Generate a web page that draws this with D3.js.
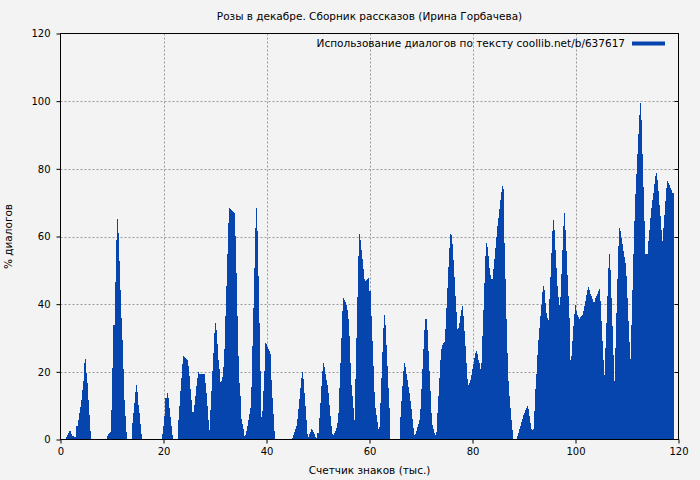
<!DOCTYPE html>
<html>
<head>
<meta charset="utf-8">
<script src="https://cdn.jsdelivr.net/npm/d3@7"></script>
<style>
  html, body { margin: 0; padding: 0; background: #f3f3f3; }
  svg { display: block; }
  text { font-family: "DejaVu Sans", sans-serif; fill: #000; }
</style>
</head>
<body>
<svg id="chart" width="700" height="480"></svg>
<script>
const chartTitle = "Розы в декабре. Сборник рассказов (Ирина Горбачева)";
const seriesName = "Использование диалогов по тексту coollib.net/b/637617";
const xAxisTitle = "Счетчик знаков (тыс.)";
const yAxisTitle = "% диалогов";
const xTicks = [0, 20, 40, 60, 80, 100, 120];
const yTicks = [0, 20, 40, 60, 80, 100, 120];

// character counter (thousands)
const charsK = [
0,1.0,1.03,1.3,1.55,1.87,2.1,2.4,2.7,2.95,2.97,3.23,3.42,3.62,3.81,4.01,4.20,4.39,4.65,4.91,5.11,5.30,5.50,5.69,5.88,6.08,
8.95,8.99,9.18,9.38,9.57,9.77,9.96,10.15,10.41,10.61,10.80,11.0,11.19,11.39,11.58,11.77,11.97,12.16,12.42,12.62,12.81,13.0,
13.8,13.84,14.04,14.23,14.43,14.62,14.82,15.01,15.2,15.4,15.59,15.79,15.98,
19.7,19.8,19.95,20.1,20.3,20.45,20.77,20.96,21.15,21.35,21.6,21.8,22.0,
22.7,22.77,22.97,23.16,23.35,23.55,23.74,23.94,24.13,24.33,24.52,24.71,24.91,25.10,25.30,25.49,25.69,25.88,26.07,26.27,26.46,26.66,26.85,27.04,27.89,28.08,28.27,28.47,28.66,28.86,29.05,29.25,29.44,29.63,29.83,30.02,30.22,30.41,30.6,30.8,30.99,31.19,31.38,31.58,31.77,31.96,32.16,32.35,32.55,32.74,32.93,33.13,33.32,33.52,33.71,33.9,34.1,34.29,34.49,34.68,34.88,35.07,35.26,35.46,35.65,35.85,36.04,36.24,36.43,36.62,36.82,37.01,37.21,37.4,37.59,37.79,37.98,38.18,38.37,38.57,38.76,38.95,39.15,39.34,39.54,39.73,39.86,40.05,40.25,40.44,40.64,40.83,41.03,41.22,41.41,41.61,41.8,
44.9,44.97,45.17,45.36,45.56,45.75,45.94,46.14,46.33,46.53,46.72,46.92,47.11,47.3,47.5,47.69,47.89,48.08,48.27,48.47,48.66,48.86,49.05,49.25,49.44,49.63,49.83,50.02,50.22,50.41,50.6,50.8,50.99,51.19,51.38,51.58,51.77,51.96,52.16,52.35,52.55,52.74,52.93,53.13,53.32,53.52,53.71,53.9,54.1,54.29,54.49,54.68,54.88,55.07,55.26,55.46,55.65,55.85,56.04,56.24,56.43,56.62,56.82,57.01,57.21,57.4,57.59,57.79,57.98,58.18,58.37,58.57,58.76,58.95,59.15,59.34,59.54,59.73,59.86,60.12,60.31,60.51,60.7,60.9,61.09,61.28,61.48,61.67,61.87,62.06,62.25,62.45,62.64,62.84,63.03,63.23,63.42,63.61,63.81,64.0,64.13,
65.8,65.88,66.07,66.27,66.46,66.66,66.85,67.04,67.24,67.43,67.63,67.82,68.02,68.21,68.4,68.6,68.79,68.99,69.18,69.37,69.57,69.76,69.96,70.15,70.35,70.54,70.73,70.99,71.19,71.38,71.58,71.77,71.96,72.16,72.35,72.55,72.74,72.93,73.13,73.32,73.52,73.71,73.9,74.1,74.29,74.49,74.68,74.88,75.07,75.26,75.46,75.65,75.85,76.04,76.24,76.43,76.62,76.82,77.01,77.21,77.4,77.59,77.79,77.98,78.18,78.37,78.57,78.76,78.95,79.15,79.34,79.54,79.73,79.86,80.05,80.25,80.44,80.64,80.83,81.03,81.22,81.41,81.61,81.8,82.0,82.19,82.38,82.58,82.77,82.97,83.16,83.36,83.55,83.74,83.94,84.13,84.33,84.52,84.71,84.91,85.1,85.3,85.49,85.69,85.88,86.01,86.2,86.4,86.59,86.79,86.98,87.17,87.37,87.56,87.76,87.95,88.14,88.53,88.73,
88.92,89.12,89.31,89.5,89.7,89.89,90.09,90.28,90.47,90.67,90.86,91.06,91.25,91.45,91.64,91.83,92.03,92.22,92.42,92.61,92.8,93.0,93.19,93.39,93.58,93.78,93.97,94.16,94.36,94.55,94.75,94.94,95.13,95.33,95.52,95.72,95.91,96.11,96.3,96.49,96.69,96.88,97.08,97.27,97.47,97.66,97.85,98.05,98.24,98.43,98.63,98.82,99.02,99.21,99.41,99.6,99.8,100.0,
100.05,100.25,100.44,100.64,100.83,101.03,101.22,101.41,101.61,101.8,102.0,102.19,102.38,102.58,102.77,102.97,103.16,103.36,103.55,103.74,103.94,104.13,104.33,104.52,104.71,104.91,105.1,105.3,105.49,105.69,105.88,106.07,106.27,106.46,106.66,106.85,107.04,107.24,107.43,107.63,107.82,108.02,108.21,108.4,108.6,108.79,108.99,109.18,109.37,109.57,109.76,109.96,110.15,110.35,110.54,110.73,110.93,111.12,111.32,111.51,111.71,111.9,112.09,112.29,112.48,112.68,112.87,113.06,113.26,113.45,113.65,113.84,114.03,114.23,114.42,114.62,114.81,115.0,115.2,115.39,115.59,115.78,115.98,116.17,116.36,116.56,116.75,116.95,117.14,117.34,117.53,117.72,117.92,118.11,118.31,118.5,118.69,118.89,119.08,119.09
];

// share of dialogue (%)
const dialogPct = [
0,0,0.6,1.4,2.0,2.4,1.7,1.0,0.6,0.6,2.4,4.1,5.9,7.7,9.5,11.8,14.5,17.2,22.5,23.9,19.7,16.7,11.8,7.1,2.4,0,
0,0.4,1.0,1.5,2.0,2.2,8.6,21.0,33.8,46.5,58.9,65.3,60.9,52.7,44.3,35.9,29.5,20.7,11.8,6.9,2.2,0,
0,1.5,4.9,7.9,10.8,14.1,16.0,14.0,10.3,7.9,4.7,1.5,0,
0,1.5,4.0,6.9,9.4,12.3,13.8,12.3,9.4,6.7,4.1,1.2,0,
0,1.7,5.9,10.0,14.3,18.2,22.4,24.8,24.4,24.1,23.8,23.6,21.7,18.7,15.0,11.6,8.1,8.1,10.3,13.0,15.8,18.2,19.9,19.5,19.5,16.7,13.8,9.8,5.7,2.8,8.7,14.3,20.2,25.6,31.5,34.5,32.5,28.1,23.6,20.7,16.9,17.2,18.5,21.5,26.8,36.4,45.3,54.7,64.0,68.4,68.1,67.7,67.5,67.2,67.0,60.1,49.2,36.4,24.8,16.7,12.8,6.1,4.7,3.2,1.0,1.2,2.5,4.1,5.9,7.4,9.4,15.6,27.6,38.9,50.7,62.5,68.4,61.5,48.3,34.5,20.2,6.7,8.4,14.3,20.2,24.0,28.6,28.1,27.4,26.8,26.1,25.4,17.5,12.3,7.4,2.5,0,
0,0.5,1.2,2.2,3.2,4.1,6.1,9.1,12.0,15.3,18.2,19.9,17.9,13.8,9.8,5.9,1.7,0.8,1.5,2.2,3.0,2.8,2.2,1.5,0.8,0.5,2.0,2.0,6.4,10.8,15.8,20.2,22.5,21.5,19.5,17.5,16.2,13.8,10.3,6.9,3.9,1.5,1.2,1.8,2.5,3.4,4.9,7.7,15.3,22.6,30.0,37.9,41.7,41.2,40.6,39.9,38.2,35.5,30.5,22.6,16.0,12.8,9.4,5.9,17.9,30.0,42.1,54.2,60.6,59.1,56.1,53.4,50.4,47.5,46.8,47.1,47.5,47.8,47.8,43.8,36.4,29.0,21.7,14.0,9.4,7.1,5.1,3.2,3.6,10.8,18.2,25.8,33.0,36.8,33.7,27.8,21.7,15.3,9.4,3.2,0,
0,2.0,6.7,11.3,15.8,20.2,22.6,21.5,19.5,17.5,15.6,13.6,11.3,8.9,6.1,3.4,1.2,1.5,2.5,3.6,4.7,5.9,9.1,15.0,20.9,26.8,32.5,35.6,32.5,26.1,20.2,14.3,7.9,4.4,3.0,2.0,1.3,2.3,7.7,12.8,18.2,23.6,26.8,27.8,28.4,28.8,32.7,38.9,44.8,51.0,56.6,60.6,60.5,57.9,53.0,48.1,42.5,37.6,32.7,33.0,34.5,36.6,38.4,39.6,36.4,32.2,27.6,22.6,17.9,16.2,16.7,17.5,18.2,19.2,20.7,22.2,24.1,25.6,26.1,25.4,23.6,22.5,20.9,22.6,30.5,38.4,46.3,54.2,58.1,56.9,54.2,50.7,48.7,47.3,47.3,50.4,53.4,56.6,59.9,63.0,65.5,68.1,70.9,73.1,75.0,74.0,58.1,47.3,35.5,25.6,17.2,12.8,9.4,5.9,2.8,0.2,0,0,1.0,
2.0,3.0,4.1,5.1,6.1,7.1,7.9,8.7,9.4,9.8,9.1,6.9,4.9,3.2,2.8,3.0,8.4,14.8,19.5,25.1,29.3,33.0,36.6,39.9,43.5,45.3,44.3,40.2,37.4,35.9,35.3,41.4,48.1,55.1,61.5,65.0,61.8,56.1,50.7,45.3,42.1,39.9,42.1,49.0,56.1,63.2,66.8,62.0,55.6,48.7,42.5,35.9,23.6,24.8,29.0,33.5,37.2,39.7,
38.9,37.9,36.9,36.1,35.7,36.1,36.4,36.9,37.9,39.4,40.9,42.8,44.3,45.0,44.3,43.0,42.3,41.4,40.7,40.7,41.7,42.3,43.0,43.8,44.6,40.9,35.0,29.0,23.6,19.0,26.9,34.5,42.5,50.7,54.7,50.2,41.9,33.5,25.1,17.2,26.9,37.4,47.3,57.1,62.5,61.5,59.6,57.8,55.8,53.9,52.2,48.3,41.7,35.0,28.9,23.9,33.8,44.3,54.7,64.5,72.6,78.5,84.4,90.3,96.0,99.5,94.5,84.4,74.5,64.7,54.8,54.7,54.8,58.6,62.0,65.5,68.4,70.9,72.9,75.5,77.8,78.8,76.8,73.4,69.4,66.0,62.0,58.6,62.6,66.5,70.4,74.3,76.4,75.8,75.3,74.3,73.6,72.9,72.9,0
];

if (charsK.length !== dialogPct.length) {
  throw new Error("length mismatch " + charsK.length + " vs " + dialogPct.length);
}

const points = charsK.map((v, i) => ({ x: v, y: dialogPct[i] }));

const svg = d3.select("#chart");
const W = 700, H = 480;
const mLeft = 60.5, mRight = 678.5, mTop = 33.5, mBottom = 439.5;

svg.append("rect").attr("width", W).attr("height", H).attr("fill", "#f3f3f3");

const xScale = d3.scaleLinear().domain([0, 120]).range([mLeft, mRight]);
const yScale = d3.scaleLinear().domain([0, 120]).range([mBottom, mTop]);

// grid
const grid = svg.append("g").attr("stroke", "#9a9a9a").attr("stroke-width", 1)
  .attr("stroke-dasharray", "2,2").attr("fill", "none");
xTicks.filter(t => t > 0 && t < 120).forEach(t => {
  const px = Math.round(xScale(t)) + 0.5;
  grid.append("line").attr("x1", px).attr("x2", px).attr("y1", mTop).attr("y2", mBottom);
});
yTicks.filter(t => t > 0 && t < 120).forEach(t => {
  const py = Math.round(yScale(t)) + 0.5;
  grid.append("line").attr("y1", py).attr("y2", py).attr("x1", mLeft).attr("x2", mRight);
});

// area (stepped, like thin columns)
const area = d3.area()
  .x(d => xScale(d.x))
  .y0(yScale(0))
  .y1(d => yScale(d.y))
  .curve(d3.curveStep);

svg.append("path").datum(points)
  .attr("d", area)
  .attr("fill", "#0645ad")
  .attr("shape-rendering", "crispEdges");

// axes
const xAxis = d3.axisBottom(xScale).tickValues(xTicks).tickSize(4).tickPadding(4).tickFormat(d3.format("d"));
const yAxis = d3.axisLeft(yScale).tickValues(yTicks).tickSize(4).tickPadding(6).tickFormat(d3.format("d"));

const gx = svg.append("g").attr("transform", `translate(0,${mBottom})`).call(xAxis);
const gy = svg.append("g").attr("transform", `translate(${mLeft},0)`).call(yAxis);
[gx, gy].forEach(g => {
  g.select(".domain").remove();
  g.selectAll("line").attr("stroke", "#000");
  g.selectAll("text").attr("font-family", "DejaVu Sans, sans-serif").attr("font-size", 10).attr("fill", "#000");
});

// right mirror ticks (inward)
const gr = svg.append("g").attr("stroke", "#000");
yTicks.filter(t => t > 0 && t < 120).forEach(t => {
  const py = Math.round(yScale(t)) + 0.5;
  gr.append("line").attr("x1", mRight - 4).attr("x2", mRight).attr("y1", py).attr("y2", py);
});

// frame
svg.append("rect").attr("x", mLeft).attr("y", mTop)
  .attr("width", mRight - mLeft).attr("height", mBottom - mTop)
  .attr("fill", "none").attr("stroke", "#000").attr("stroke-width", 1);

// title
svg.append("text").attr("x", (mLeft + mRight) / 2).attr("y", 20)
  .attr("text-anchor", "middle").attr("font-size", 10.5).text(chartTitle);

// legend
svg.append("text").attr("x", 625).attr("y", 47)
  .attr("text-anchor", "end").attr("font-size", 10.5).text(seriesName);
svg.append("line").attr("x1", 632).attr("x2", 665).attr("y1", 43.5).attr("y2", 43.5)
  .attr("stroke", "#0645ad").attr("stroke-width", 4);

// axis titles
svg.append("text").attr("x", (mLeft + mRight) / 2).attr("y", 474)
  .attr("text-anchor", "middle").attr("font-size", 10.5).text(xAxisTitle);
svg.append("text").attr("transform", `translate(12,${(mTop + mBottom) / 2}) rotate(-90)`)
  .attr("text-anchor", "middle").attr("font-size", 10.5).text(yAxisTitle);
</script>
</body>
</html>
